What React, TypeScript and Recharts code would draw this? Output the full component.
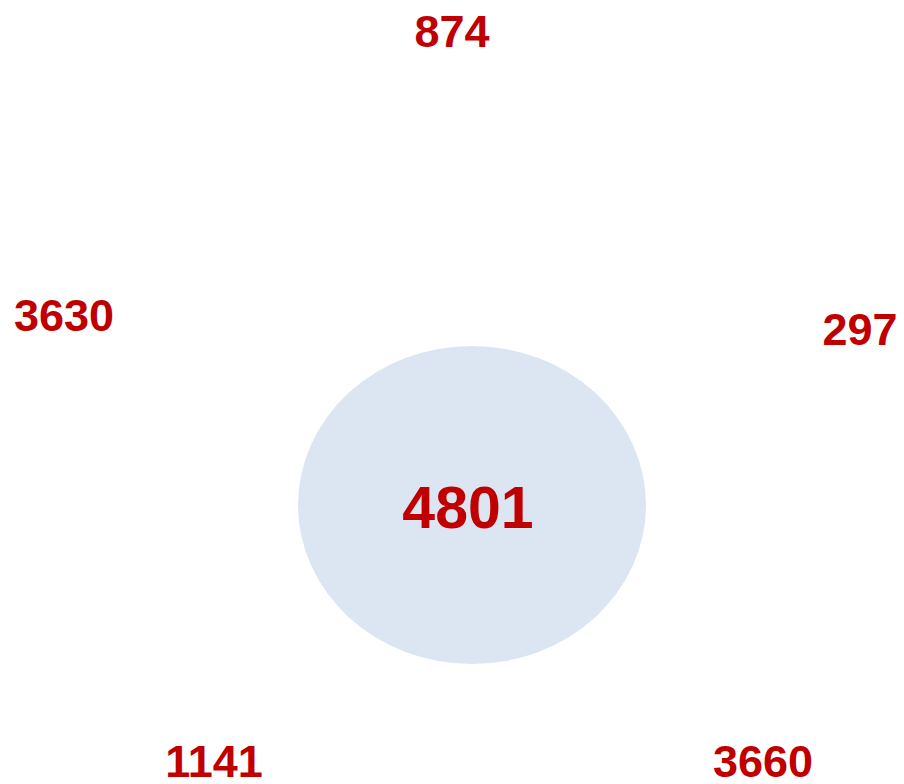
import React from "react";
import { ScatterChart, Scatter, XAxis, YAxis } from "recharts";

// region counts
const VALUES = [874, 3630, 297, 4801, 1141, 3660];
// where each count sits (canvas units)
const LABEL_X = [452, 64, 860, 468, 214, 763];
const LABEL_Y = [31, 315, 329, 507, 761, 761];
const BIG = [false, false, false, true, false, false];

const CIRCLE_X = [472];
const CIRCLE_Y = [505];

const RED = "#c00000";

const labelData = VALUES.map((v, i) => ({ x: LABEL_X[i], y: LABEL_Y[i], value: v, big: BIG[i] }));
const circleData = CIRCLE_X.map((x, i) => ({ x, y: CIRCLE_Y[i] }));

const Ellipse = (props: any) => (
  <ellipse cx={props.cx} cy={props.cy} rx={174} ry={159} fill="#dce6f2" />
);

const Label = (props: any) => {
  const size = props.payload.big ? 59 : 45;
  return (
    <text
      x={props.cx}
      y={props.cy + size * 0.358}
      textAnchor="middle"
      fontFamily="'Liberation Sans', Arial, sans-serif"
      fontWeight="bold"
      fontSize={size}
      fill={RED}
    >
      {props.payload.value}
    </text>
  );
};

export default function App() {
  return (
    <div style={{ position: "absolute", left: 0, top: 0, background: "#fff" }}>
      <ScatterChart width={904} height={784} margin={{ top: 0, right: 0, bottom: 0, left: 0 }}>
        <XAxis type="number" dataKey="x" domain={[0, 904]} hide />
        <YAxis type="number" dataKey="y" domain={[0, 784]} reversed hide />
        <Scatter data={circleData} shape={Ellipse} isAnimationActive={false} />
        <Scatter data={labelData} shape={Label} isAnimationActive={false} />
      </ScatterChart>
    </div>
  );
}
